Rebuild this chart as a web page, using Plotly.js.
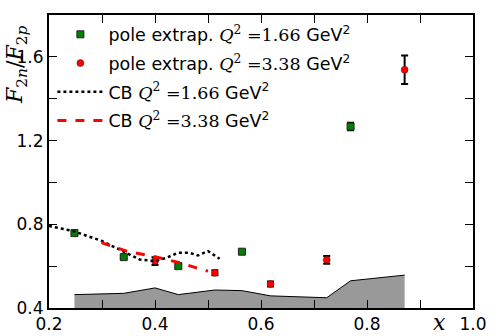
<!DOCTYPE html>
<html>
<head>
<meta charset="utf-8">
<script src="https://cdn.plot.ly/plotly-3.0.1.min.js"></script>
<style>
  html, body { margin: 0; padding: 0; background: #fff; }
  #chart { width: 498px; height: 336px; }
</style>
</head>
<body>
<div id="chart"></div>
<script>
// pole extrapolation, Q^2 = 1.66 GeV^2
const poleX1 = [0.248, 0.341, 0.444, 0.564, 0.769];
const poleY1 = [0.758, 0.643, 0.600, 0.669, 1.267];
const poleErr1 = [0.008, 0.008, 0.008, 0.008, 0.018];

// pole extrapolation, Q^2 = 3.38 GeV^2
const poleX2 = [0.400, 0.513, 0.618, 0.724, 0.871];
const poleY2 = [0.624, 0.568, 0.515, 0.630, 1.538];
const poleErr2 = [0.018, 0.012, 0.012, 0.018, 0.068];

// CB curves
const cbX1 = [0.20, 0.245, 0.30, 0.346, 0.371, 0.40, 0.422, 0.443, 0.465, 0.481, 0.50, 0.522];
const cbY1 = [0.792, 0.768, 0.720, 0.664, 0.632, 0.624, 0.640, 0.664, 0.664, 0.651, 0.672, 0.635];
const cbX2 = [0.299, 0.346, 0.40, 0.447, 0.478, 0.50];
const cbY2 = [0.712, 0.672, 0.645, 0.616, 0.592, 0.576];

// systematic band
const sysX = [0.248, 0.341, 0.400, 0.444, 0.513, 0.564, 0.618, 0.724, 0.769, 0.871];
const sysY = [0.464, 0.470, 0.496, 0.464, 0.486, 0.483, 0.458, 0.449, 0.530, 0.557];

// axis ticks
const xTickVals = [0.2, 0.3, 0.4, 0.5, 0.6, 0.7, 0.8, 0.9, 1.0];
const xTickText = ['0.2', '', '0.4', '', '0.6', '', '0.8', '', '1.0'];
const yTickVals = [0.4, 0.6, 0.8, 1.0, 1.2, 1.4, 1.6, 1.8];
const yTickText = ['0.4', '', '0.8', '', '1.2', '', '1.6', ''];

const serif = 'DejaVu Serif, Liberation Serif, serif';
function q2Label(prefix, val) {
    return prefix + ' <span style="font-family:' + serif + '"><i>Q</i><sup>2</sup> =' + val + '</span> GeV<sup>2</sup>';
}

const traces = [
    {
        x: sysX, y: sysY,
        mode: 'lines',
        fill: 'tozeroy',
        fillcolor: '#999999',
        line: { color: '#000', width: 1 },
        showlegend: false,
        hoverinfo: 'none'
    },
    {
        x: poleX1, y: poleY1,
        mode: 'markers',
        name: q2Label('pole extrap.', '1.66'),
        legendgroup: 'a',
        marker: { symbol: 'square', size: 7, color: '#008000', line: { color: '#222', width: 1 } },
        error_y: { type: 'data', array: poleErr1, color: '#000', thickness: 2, width: 3.5 }
    },
    {
        x: poleX2, y: poleY2,
        mode: 'markers',
        name: q2Label('pole extrap.', '3.38'),
        legendgroup: 'b',
        marker: { symbol: 'circle', size: 7, color: '#ff0000', line: { color: '#222', width: 0.5 } },
        error_y: { type: 'data', array: poleErr2, color: '#000', thickness: 2, width: 3.5 }
    },
    {
        x: cbX1, y: cbY1,
        mode: 'lines',
        name: q2Label('CB', '1.66'),
        legendgroup: 'c',
        line: { color: '#000', width: 2.5, dash: 'dot' }
    },
    {
        x: cbX2, y: cbY2,
        mode: 'lines',
        name: q2Label('CB', '3.38'),
        legendgroup: 'd',
        line: { color: '#ff0000', width: 3, dash: 'dash' }
    }
];

const axisCommon = {
    showgrid: false,
    zeroline: false,
    showline: true,
    linecolor: '#000',
    linewidth: 2,
    mirror: 'ticks',
    ticks: 'inside',
    ticklen: 8,
    tickwidth: 1,
    tickcolor: '#000',
    tickfont: { family: 'DejaVu Sans, sans-serif', size: 17, color: '#000' }
};

const layout = {
    width: 498,
    height: 336,
    margin: { l: 49, r: 25, t: 15, b: 28 },
    paper_bgcolor: '#fff',
    plot_bgcolor: '#fff',
    showlegend: true,
    xaxis: Object.assign({}, axisCommon, {
        range: [0.2, 1.0],
        tickmode: 'array',
        tickvals: xTickVals,
        ticktext: xTickText
    }),
    yaxis: Object.assign({}, axisCommon, {
        range: [0.4, 1.8],
        tickmode: 'array',
        tickvals: yTickVals,
        ticktext: yTickText,
        ticklabelstandoff: 0
    }),
    legend: {
        x: 0.008, y: 0.995,
        xanchor: 'left', yanchor: 'top',
        bgcolor: 'rgba(0,0,0,0)',
        borderwidth: 0,
        font: { family: 'DejaVu Sans, sans-serif', size: 17.5, color: '#000' },
        itemwidth: 46,
        tracegroupgap: 3
    },
    annotations: [
        {
            text: '<i>F</i><sub>2<i>n</i></sub>/<i>F</i><sub>2<i>p</i></sub>',
            xref: 'paper', yref: 'paper',
            x: -0.075, y: 0.83,
            xanchor: 'center', yanchor: 'middle',
            textangle: -90,
            showarrow: false,
            font: { family: serif, size: 22, color: '#000' }
        },
        {
            text: '<i>x</i>',
            xref: 'paper', yref: 'paper',
            x: 0.922, y: -0.05,
            xanchor: 'center', yanchor: 'middle',
            showarrow: false,
            font: { family: serif, size: 22, color: '#000' }
        }
    ]
};

Plotly.newPlot('chart', traces, layout, { displayModeBar: false, staticPlot: true });
</script>
</body>
</html>
